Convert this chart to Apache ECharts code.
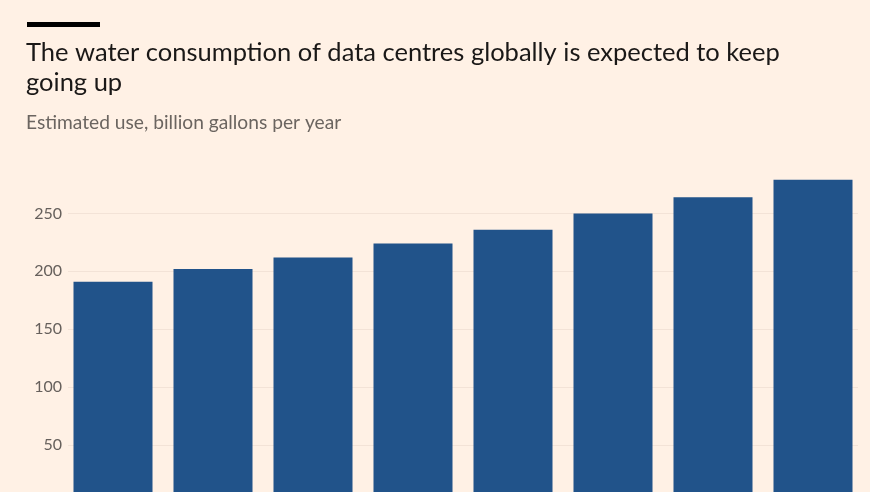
<!DOCTYPE html>
<html>
<head>
<meta charset="utf-8">
<script src="https://cdn.jsdelivr.net/npm/echarts@6/dist/echarts.min.js"></script>
<style>
html,body{margin:0;padding:0;background:#FFF1E5;overflow:hidden;}
#chart{width:870px;height:503px;}
</style>
</head>
<body>
<div id="chart"></div>
<script>
const titleText = "The water consumption of data centres globally is expected to keep\ngoing up";
const subtitleText = "Estimated use, billion gallons per year";
const categories = ["2023", "2024", "2025", "2026", "2027", "2028", "2029", "2030"];
const waterUse = [191, 202, 212, 224, 236, 250, 264, 279];
const yTicks = [0, 50, 100, 150, 200, 250, 300];

const yMin = yTicks[0];
const yMax = yTicks[yTicks.length - 1];

const chart = echarts.init(document.getElementById('chart'), null, {renderer: 'canvas'});
chart.setOption({
  backgroundColor: '#FFF1E5',
  animation: false,
  graphic: [
    {type: 'rect', left: 27, top: 22, shape: {width: 73, height: 5}, style: {fill: '#000000'}}
  ],
  title: [
    {
      text: titleText,
      left: 21, top: 33,
      textStyle: {fontFamily: 'Lato', fontSize: 25.5, fontWeight: 'normal', color: '#1a1817', lineHeight: 30}
    },
    {
      text: subtitleText,
      left: 21, top: 108,
      textStyle: {fontFamily: 'Lato', fontSize: 19.2, fontWeight: 'normal', color: '#6b6560'}
    }
  ],
  grid: [
    {left: 68, right: 12, top: 155.5, bottom: 0, containLabel: false},
    {left: 63, right: 7, top: 155.5, bottom: 0, containLabel: false}
  ],
  xAxis: [
    {type: 'category', gridIndex: 0, data: categories, show: false},
    {type: 'category', gridIndex: 1, data: categories, axisLine: {show: false}, axisTick: {show: false}, axisLabel: {show: false}}
  ],
  yAxis: [
    {
      type: 'value', gridIndex: 0,
      min: yMin, max: yMax, interval: 50,
      axisLine: {show: false},
      axisTick: {show: false},
      axisLabel: {
        showMaxLabel: false,
        showMinLabel: false,
        margin: 6,
        fontFamily: 'Lato',
        fontSize: 16,
        color: '#66605c'
      },
      splitLine: {showMaxLine: false, lineStyle: {color: '#f3e3d7', width: 1}}
    },
    {
      type: 'value', gridIndex: 1,
      min: yMin, max: yMax, interval: 50,
      axisLine: {show: false}, axisTick: {show: false}, axisLabel: {show: false}, splitLine: {show: false}
    }
  ],
  series: [{
    type: 'bar',
    xAxisIndex: 1,
    yAxisIndex: 1,
    data: waterUse,
    barWidth: 79,
    itemStyle: {color: '#21538a'}
  }]
});
</script>
</body>
</html>
